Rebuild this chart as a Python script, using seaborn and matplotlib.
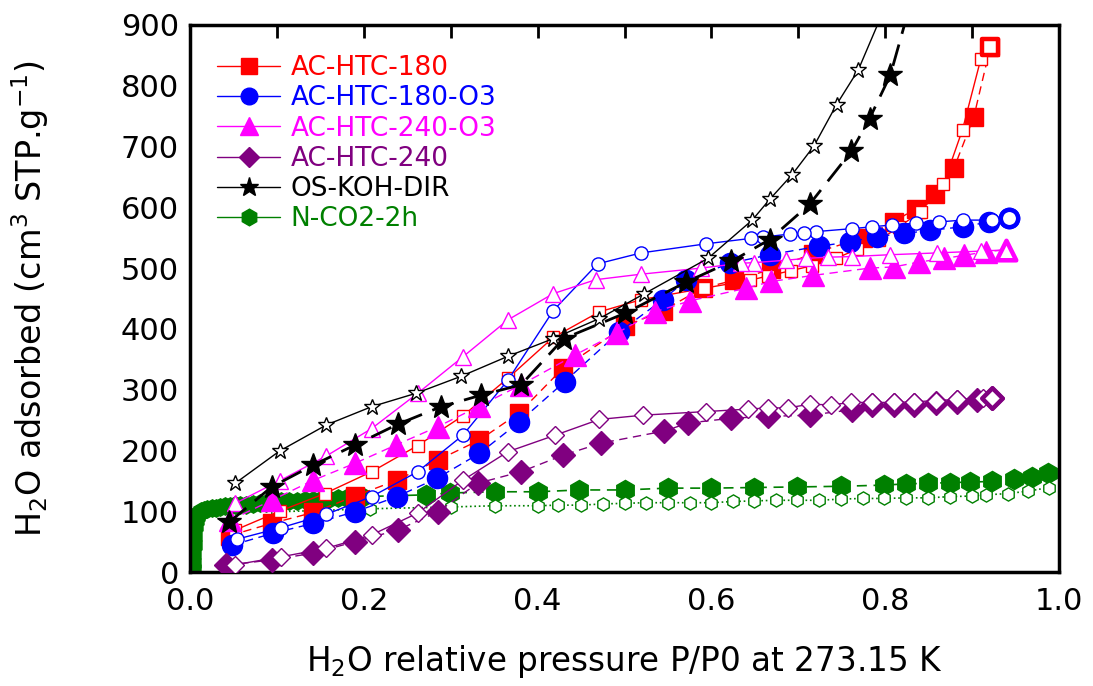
import matplotlib
matplotlib.use("Agg")
import matplotlib.pyplot as plt
from matplotlib.lines import Line2D
import seaborn as sns
import pandas as pd

# ---------------- data ----------------
labels = ["AC-HTC-180", "AC-HTC-180-O3", "AC-HTC-240-O3", "AC-HTC-240", "OS-KOH-DIR", "N-CO2-2h"]
colors = ["#FF0000", "#0000FF", "#FF00FF", "#800080", "#000000", "#008000"]

red_ads_x = [0.046, 0.094, 0.142, 0.19, 0.238, 0.285, 0.333, 0.379, 0.429, 0.5, 0.544, 0.59, 0.626,
             0.669, 0.717, 0.774, 0.81, 0.835, 0.857, 0.879, 0.902, 0.921]
red_ads_y = [60, 80, 98, 125, 151, 184, 217, 262, 335, 404, 430, 467, 480, 498, 524, 550, 576, 598,
             622, 664, 749, 864]
red_des_x = [0.921, 0.91, 0.889, 0.867, 0.841, 0.816, 0.793, 0.768, 0.743, 0.716, 0.692, 0.665, 0.644,
             0.592, 0.519, 0.471, 0.418, 0.366, 0.314, 0.262, 0.209, 0.155, 0.103, 0.052]
red_des_y = [864, 844, 728, 638, 593, 568, 546, 531, 516, 504, 496, 487, 480, 467, 448, 428, 386, 319,
             257, 208, 165, 129, 100, 69]

blue_ads_x = [0.048, 0.096, 0.142, 0.19, 0.238, 0.284, 0.333, 0.379, 0.431, 0.494, 0.544, 0.571, 0.621,
              0.667, 0.724, 0.759, 0.791, 0.822, 0.851, 0.889, 0.92, 0.943]
blue_ads_y = [44, 64, 80, 99, 124, 154, 195, 247, 313, 395, 448, 480, 508, 522, 536, 543, 552, 557, 562,
              568, 576, 582]
blue_des_x = [0.943, 0.923, 0.889, 0.862, 0.835, 0.808, 0.785, 0.762, 0.72, 0.707, 0.69, 0.659, 0.646,
              0.594, 0.519, 0.469, 0.418, 0.366, 0.314, 0.262, 0.209, 0.157, 0.105, 0.054]
blue_des_y = [582, 579, 579, 576, 574, 571, 568, 565, 560, 558, 556, 551, 549, 540, 525, 507, 430, 316,
              225, 165, 124, 95, 73, 54]

mag_ads_x = [0.046, 0.094, 0.142, 0.19, 0.237, 0.285, 0.333, 0.381, 0.443, 0.491, 0.535, 0.575, 0.64,
             0.669, 0.717, 0.782, 0.81, 0.839, 0.868, 0.891, 0.916, 0.939]
mag_ads_y = [85, 118, 151, 179, 209, 239, 273, 308, 357, 393, 428, 446, 467, 478, 488, 500, 502, 510,
             516, 521, 527, 530]
mag_des_x = [0.939, 0.91, 0.86, 0.805, 0.762, 0.734, 0.709, 0.686, 0.649, 0.634, 0.588, 0.519, 0.467,
             0.418, 0.366, 0.314, 0.262, 0.209, 0.157, 0.103, 0.052]
mag_des_y = [530, 528, 525, 522, 519, 518, 516, 513, 509, 508, 500, 490, 481, 458, 415, 354, 294, 236,
             191, 150, 113]

pur_ads_x = [0.042, 0.094, 0.142, 0.19, 0.239, 0.285, 0.331, 0.381, 0.429, 0.473, 0.546, 0.573, 0.623,
             0.665, 0.713, 0.762, 0.785, 0.81, 0.833, 0.858, 0.883, 0.906, 0.923]
pur_ads_y = [11, 20, 31, 50, 69, 99, 146, 165, 192, 212, 232, 245, 253, 256, 258, 267, 275, 275, 275,
             278, 280, 283, 286]
pur_des_x = [0.923, 0.912, 0.883, 0.858, 0.833, 0.81, 0.785, 0.761, 0.738, 0.713, 0.688, 0.665, 0.642,
             0.594, 0.521, 0.471, 0.42, 0.366, 0.314, 0.262, 0.209, 0.157, 0.105, 0.052]
pur_des_y = [286, 286, 284, 282, 280, 279, 279, 279, 275, 276, 270, 270, 268, 264, 258, 251, 225, 198,
             151, 97, 61, 39, 25, 12]

blk_ads_x = [0.045, 0.094, 0.142, 0.19, 0.239, 0.289, 0.335, 0.381, 0.43, 0.501, 0.571, 0.623, 0.667,
             0.713, 0.761, 0.782, 0.806, 0.83]
blk_ads_y = [82, 140, 176, 209, 243, 272, 291, 308, 384, 426, 477, 511, 547, 605, 692, 746, 818, 940]
blk_des_x = [0.80, 0.769, 0.744, 0.718, 0.693, 0.667, 0.647, 0.596, 0.523, 0.471, 0.418, 0.366, 0.312,
             0.26, 0.209, 0.157, 0.103, 0.052]
blk_des_y = [930, 826, 769, 701, 654, 613, 579, 516, 458, 417, 384, 355, 322, 294, 272, 242, 199, 146]

# N-CO2-2h: dense low-pressure part, then spaced points
grn_dense_x = [0.003, 0.004, 0.004, 0.005, 0.005, 0.006, 0.007, 0.008, 0.010, 0.013, 0.016, 0.020,
               0.025, 0.030, 0.035, 0.040, 0.046, 0.052, 0.058, 0.065, 0.072, 0.080, 0.088, 0.096,
               0.105, 0.114, 0.123, 0.132, 0.141, 0.150, 0.160, 0.170, 0.180, 0.190, 0.200]
grn_dense_y = [5, 15, 30, 45, 60, 75, 85, 92, 97, 100, 102, 104, 105, 106, 107, 108, 109, 110, 111, 111,
               112, 113, 114, 115, 116, 117, 117, 118, 119, 119, 120, 121, 122, 123, 124]
grn_ads_x = [0.272, 0.299, 0.351, 0.400, 0.448, 0.50, 0.55, 0.60, 0.649, 0.699, 0.749, 0.799, 0.824,
             0.849, 0.874, 0.898, 0.923, 0.948, 0.969, 0.987]
grn_ads_y = [127, 130, 132, 132, 135, 135, 138, 138, 139, 140, 141, 143, 145, 146, 147, 148, 149, 153,
             157, 163]
grn_des_x = [0.989, 0.964, 0.941, 0.916, 0.9, 0.874, 0.849, 0.824, 0.799, 0.774, 0.749, 0.724, 0.699,
             0.674, 0.649, 0.625, 0.6, 0.575, 0.55, 0.525, 0.5, 0.475, 0.45, 0.423, 0.40, 0.351, 0.30,
             0.207, 0.10]
grn_des_y = [139, 133, 129, 127, 125, 124, 122, 122, 121, 121, 120, 118, 118, 118, 117, 116, 114, 114,
             114, 114, 113, 112, 110, 110, 109, 109, 107, 104, 99]

x_ticks = [0.0, 0.2, 0.4, 0.6, 0.8, 1.0]
x_minor = [0.1, 0.3, 0.5, 0.7, 0.9]
y_ticks = [0, 100, 200, 300, 400, 500, 600, 700, 800, 900]

# ---------------- plotting ----------------
sns.set_theme(style="white")
plt.rcParams["font.family"] = ["DejaVu Sans"]
plt.rcParams["mathtext.default"] = "regular"

fig = plt.figure(figsize=(10.93, 6.86), dpi=100)
ax = fig.add_axes([190 / 1093, 1 - 572 / 686, 869 / 1093, 547 / 686])

DASH = (0, (6, 4))


def line(x, y, color, marker, ms, ls, lw, filled=True, mew=1.0, zorder=2):
    sns.lineplot(x=x, y=y, sort=False, estimator=None, ax=ax, color=color, marker=marker,
                 markersize=ms, linestyle=ls, linewidth=lw,
                 markerfacecolor=color if filled else "white",
                 markeredgecolor=color, markeredgewidth=mew, zorder=zorder)


def end_marker(x, y, color, marker, ms):
    sns.scatterplot(x=[x], y=[y], ax=ax, marker=marker, s=ms ** 2, facecolor="white",
                    edgecolor=color, linewidth=3.2, zorder=6)


# N-CO2-2h (green)
g = colors[5]
sns.lineplot(x=grn_dense_x + grn_ads_x, y=grn_dense_y + grn_ads_y, sort=False, estimator=None, ax=ax,
             color=g, linestyle=DASH, linewidth=1.2, zorder=2)
sns.lineplot(x=grn_dense_x, y=grn_dense_y, sort=False, estimator=None, ax=ax, color=g, marker="h",
             markersize=12.5, linestyle="none", markerfacecolor=g, markeredgecolor=g,
             markeredgewidth=1, zorder=2)
sns.lineplot(x=grn_ads_x, y=grn_ads_y, sort=False, estimator=None, ax=ax, color=g, marker="h",
             markersize=14.5, linestyle="none", markerfacecolor=g, markeredgecolor=g,
             markeredgewidth=1, zorder=2)
line(grn_des_x, grn_des_y, g, "h", 9.5, ":", 1.2, filled=False, zorder=2)

# AC-HTC-180 (red)
line(red_ads_x, red_ads_y, colors[0], "s", 13, DASH, 1.0, zorder=3)
line(red_des_x, red_des_y, colors[0], "s", 8.6, "-", 1.0, filled=False, zorder=3)
end_marker(red_ads_x[-1], red_ads_y[-1], colors[0], "s", 12)

# AC-HTC-180-O3 (blue)
line(blue_ads_x, blue_ads_y, colors[1], "o", 14.5, DASH, 1.0, zorder=3)
line(blue_des_x, blue_des_y, colors[1], "o", 9.5, "-", 1.0, filled=False, zorder=3)
end_marker(blue_ads_x[-1], blue_ads_y[-1], colors[1], "o", 12.5)

# AC-HTC-240-O3 (magenta)
line(mag_ads_x, mag_ads_y, colors[2], "^", 16, DASH, 1.0, zorder=3)
line(mag_des_x, mag_des_y, colors[2], "^", 11, "-", 1.0, filled=False, zorder=3)
end_marker(mag_ads_x[-1], mag_ads_y[-1], colors[2], "^", 14)

# AC-HTC-240 (purple)
line(pur_ads_x, pur_ads_y, colors[3], "D", 12.5, DASH, 1.0, zorder=3)
line(pur_des_x, pur_des_y, colors[3], "D", 8.7, "-", 1.0, filled=False, zorder=3)
end_marker(pur_ads_x[-1], pur_ads_y[-1], colors[3], "D", 10.5)

# OS-KOH-DIR (black)
line(blk_ads_x, blk_ads_y, colors[4], "*", 18, (0, (8, 4)), 2.0, zorder=4)
line(blk_des_x, blk_des_y, colors[4], "*", 12, "-", 1.0, filled=False, zorder=4)

# axes styling
ax.set_xlim(0, 1.0)
ax.set_ylim(0, 900)
ax.set_xticks(x_ticks)
ax.set_xticklabels([f"{v:.1f}" for v in x_ticks])
ax.set_xticks(x_minor, minor=True)
ax.set_yticks(y_ticks)
ax.set_yticklabels([str(v) for v in y_ticks])
for s in ax.spines.values():
    s.set_linewidth(2.5)
    s.set_color("black")
ax.tick_params(axis="both", which="both", direction="in", length=9, width=2, colors="black",
               top=True, right=False, labelsize=22)
ax.tick_params(axis="x", which="both", pad=11)
ax.tick_params(axis="y", which="both", pad=8)
ax.grid(False)

ax.set_xlabel("H$_2$O relative pressure P/P0 at 273.15 K", fontsize=23.5, color="black")
ax.xaxis.set_label_coords(0.5, -0.13)
ax.set_ylabel("H$_2$O adsorbed (cm$^3$ STP.g$^{-1}$)", fontsize=24, color="black")
ax.yaxis.set_label_coords(-0.16, 0.5)

markers = ["s", "o", "^", "D", "*", "h"]
msizes = [11, 12, 13, 10, 14, 12]
handles = [Line2D([0], [0], color=c, marker=m, markersize=s, linestyle="-", linewidth=1.0,
                  markerfacecolor=c, markeredgecolor=c)
           for c, m, s in zip(colors, markers, msizes)]
leg = ax.legend(handles, labels, loc="upper left", bbox_to_anchor=(0.031, 0.945), frameon=False,
                fontsize=19, handlelength=2.4, handletextpad=0.4, labelspacing=0.16,
                borderpad=0, borderaxespad=0)
for t, c in zip(leg.get_texts(), colors):
    t.set_color(c)

fig.savefig("out.png", dpi=100)
